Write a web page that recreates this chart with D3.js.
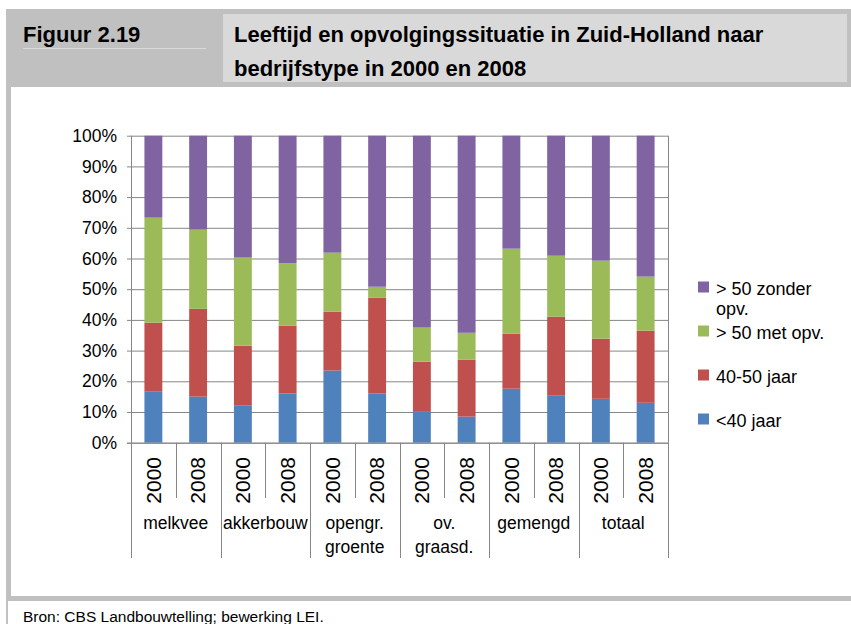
<!DOCTYPE html>
<meta charset="utf-8">
<head>
    <title>Figuur 2.19</title>
</head>
<style>
 body { margin: 0; background: #fff; }
 svg text { font-family: "Liberation Sans", Arial, sans-serif; fill: #000; }
 .head text { font-weight: bold; font-size: 22px; }
 .tick text { font-size: 17.5px; }
 .year { font-family: "Liberation Sans Narrow", "Liberation Sans", sans-serif; font-size: 21px; }
 .cat { font-size: 17.5px; }
 .legend text { font-size: 18px; }
 .grid line { stroke: #868686; }
 .grid .domain { display: none; }
</style>
<body>
    <div id="chart"></div>
    <script src="https://d3js.org/d3.v7.min.js"></script>
    <script>

     // data (percent per segment, bottom to top)
     var groups = ["melkvee", "akkerbouw", "opengr.\ngroente", "ov.\ngraasd.", "gemengd", "totaal"];
     var years = ["2000", "2008"];
     var series = ["<40 jaar", "40-50 jaar", "> 50 met opv.", "> 50 zonder opv."];
     var under40   = [16.6, 15.0, 12.2, 16.0, 23.5, 16.0, 10.3, 8.5, 17.6, 15.3, 14.3, 13.0];
     var age4050   = [22.5, 28.6, 19.4, 22.1, 19.2, 31.2, 16.1, 18.5, 17.9, 25.7, 19.6, 23.5];
     var over50met = [34.2, 25.8, 28.7, 20.4, 19.2, 3.6, 11.1, 8.8, 27.7, 19.9, 25.4, 17.6];
     var over50zon = [26.7, 30.6, 39.7, 41.5, 38.1, 49.2, 62.5, 64.2, 36.8, 39.1, 40.7, 45.9];
     var yTicks = [0, 10, 20, 30, 40, 50, 60, 70, 80, 90, 100];
     var colors = ["#4f81bd", "#c0504d", "#9bbb59", "#8064a2"];

     var width = 851, height = 624;
     var pLeft = 131, pRight = 668, pTop = 135.7, pBottom = 442.7;

     var svg = d3.select("#chart").append("svg")
                 .attr("width", width)
                 .attr("height", height);

     // header
     var head = svg.append("g").attr("class", "head");
     head.append("rect").attr("x", 6).attr("y", 9).attr("width", 845).attr("height", 78).attr("fill", "#c0c0c0");
     head.append("rect").attr("x", 223).attr("y", 14).attr("width", 624).attr("height", 68).attr("fill", "#d9d9d9");
     head.append("line").attr("x1", 23).attr("x2", 206).attr("y1", 48.5).attr("y2", 48.5)
         .attr("stroke", "#d9d9d9");
     head.append("text").attr("x", 23).attr("y", 41.5).text("Figuur 2.19");
     head.append("text").attr("x", 234).attr("y", 41.5).text("Leeftijd en opvolgingssituatie in Zuid-Holland naar");
     head.append("text").attr("x", 234).attr("y", 76).text("bedrijfstype in 2000 en 2008");

     // frame
     svg.append("rect").attr("x", 6).attr("y", 87).attr("width", 5).attr("height", 510).attr("fill", "#c0c0c0");
     svg.append("rect").attr("x", 6).attr("y", 596).attr("width", 845).attr("height", 5).attr("fill", "#c0c0c0");
     svg.append("rect").attr("x", 6).attr("y", 601).attr("width", 2).attr("height", 23).attr("fill", "#c0c0c0");
     svg.append("text").attr("x", 23).attr("y", 622).style("font-size", "15.5px")
        .text("Bron: CBS Landbouwtelling; bewerking LEI.");

     // build the rows
     var keys = [];
     groups.forEach(function(g, i) {
         years.forEach(function(y, j) { keys.push(i + "-" + y); });
     });
     var rows = keys.map(function(k, i) {
         return { key: k, year: k.split("-")[1],
                  s0: under40[i], s1: age4050[i], s2: over50met[i], s3: over50zon[i] };
     });
     var stack = d3.stack().keys(["s0", "s1", "s2", "s3"])(rows);

     var x = d3.scaleBand().domain(keys).range([pLeft, pRight]).paddingInner(0.6).paddingOuter(0.3);
     var y = d3.scaleLinear().domain([0, 100]).range([pBottom, pTop]);

     // grid
     svg.append("g")
        .attr("class", "grid")
        .attr("transform", "translate(" + pLeft + ",0)")
        .call(d3.axisLeft(y).tickValues(yTicks).tickSize(-(pRight - pLeft)).tickFormat(""));

     // y axis
     var yAxis = svg.append("g")
                    .attr("transform", "translate(" + pLeft + ",0)")
                    .call(d3.axisLeft(y).tickValues(yTicks).tickSize(4).tickPadding(10)
                            .tickFormat(function(d) { return d + "%"; }));
     yAxis.selectAll("line, path").attr("stroke", "#868686");
     yAxis.select(".domain").attr("d", "M0.5," + pTop + "V" + pBottom);

     // bars
     svg.append("g")
        .selectAll("g")
        .data(stack)
        .enter()
        .append("g")
        .attr("fill", function(d, i) { return colors[i]; })
        .selectAll("rect")
        .data(function(d) { return d; })
        .enter()
        .append("rect")
        .attr("x", function(d) { return x(d.data.key); })
        .attr("width", x.bandwidth())
        .attr("y", function(d) { return y(d[1]); })
        .attr("height", function(d) { return y(d[0]) - y(d[1]); });

     // x axis: line and separators
     var step = x.step();
     var xa = svg.append("g").attr("stroke", "#868686");
     xa.append("line").attr("x1", pLeft - 4).attr("x2", pRight).attr("y1", pBottom + 0.5).attr("y2", pBottom + 0.5);
     xa.append("line").attr("x1", pRight + 0.5).attr("x2", pRight + 0.5).attr("y1", pTop).attr("y2", pBottom);
     d3.range(keys.length + 1).forEach(function(i) {
         var xp = Math.round(pLeft + i * step) + 0.5;
         xa.append("line")
           .attr("x1", xp).attr("x2", xp)
           .attr("y1", pBottom)
           .attr("y2", i % 2 === 0 ? 558 : 498);
     });

     svg.append("g")
        .selectAll("text")
        .data(rows)
        .enter()
        .append("text")
        .attr("class", "year")
        .attr("text-anchor", "end")
        .attr("dy", "0.35em")
        .attr("transform", function(d) {
            return "translate(" + (x(d.key) + x.bandwidth() / 2) + ",457) rotate(-90)";
        })
        .text(function(d) { return d.year; });

     svg.append("g")
        .selectAll("text")
        .data(groups)
        .enter()
        .append("text")
        .attr("class", "cat")
        .attr("text-anchor", "middle")
        .attr("x", function(d, i) { return pLeft + (2 * i + 1) * step; })
        .attr("y", 529)
        .selectAll("tspan")
        .data(function(d) { return d.split("\n"); })
        .enter()
        .append("tspan")
        .attr("x", function() { return d3.select(this.parentNode).attr("x"); })
        .attr("dy", function(d, i) { return i ? 24 : 0; })
        .text(function(d) { return d; });

     // legend, top entry first
     var legendRows = [
         { i: 3, lines: ["> 50 zonder", "opv."], y: 295 },
         { i: 2, lines: ["> 50 met opv."], y: 339 },
         { i: 1, lines: ["40-50 jaar"], y: 383 },
         { i: 0, lines: ["<40 jaar"], y: 427 }
     ];
     var lg = svg.append("g").attr("class", "legend")
                 .selectAll("g")
                 .data(legendRows)
                 .enter()
                 .append("g");
     lg.append("rect")
       .attr("x", 698).attr("y", function(d) { return d.y - 13.5; })
       .attr("width", 11).attr("height", 11)
       .attr("fill", function(d) { return colors[d.i]; });
     lg.append("text")
       .attr("x", 716).attr("y", function(d) { return d.y; })
       .selectAll("tspan")
       .data(function(d) { return d.lines; })
       .enter()
       .append("tspan")
       .attr("x", 716)
       .attr("dy", function(d, i) { return i ? 20 : 0; })
       .text(function(d) { return d; });
    </script>
</body>
